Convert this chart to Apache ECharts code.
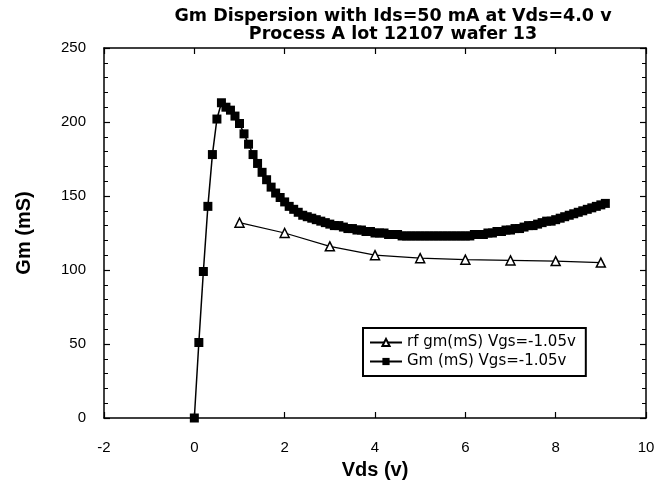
<!DOCTYPE html>
<html>
<head>
<meta charset="utf-8">
<script src="https://cdn.jsdelivr.net/npm/echarts@6/dist/echarts.min.js"></script>
<style>html,body{margin:0;padding:0;background:#fff}#c{width:662px;height:487px}</style>
</head>
<body>
<div id="c"></div>
<script>
var titleLines = ['Gm Dispersion with Ids=50 mA at Vds=4.0 v', 'Process A lot 12107 wafer 13'];
var xTitle = 'Vds (v)';
var yTitle = 'Gm (mS)';
var rfName = 'rf gm(mS) Vgs=-1.05v';
var gmName = 'Gm (mS) Vgs=-1.05v';

var rfVds = [1, 2, 3, 4, 5, 6, 7, 8, 9];
var rfGm  = [132, 125, 116, 110, 108, 107, 106.5, 106, 105];

var gmVds = [0.0,0.1,0.2,0.3,0.4,0.5,0.6,0.7,0.8,0.9,
             1.0,1.1,1.2,1.3,1.4,1.5,1.6,1.7,1.8,1.9,
             2.0,2.1,2.2,2.3,2.4,2.5,2.6,2.7,2.8,2.9,
             3.0,3.1,3.2,3.3,3.4,3.5,3.6,3.7,3.8,3.9,
             4.0,4.1,4.2,4.3,4.4,4.5,4.6,4.7,4.8,4.9,
             5.0,5.1,5.2,5.3,5.4,5.5,5.6,5.7,5.8,5.9,
             6.0,6.1,6.2,6.3,6.4,6.5,6.6,6.7,6.8,6.9,
             7.0,7.1,7.2,7.3,7.4,7.5,7.6,7.7,7.8,7.9,
             8.0,8.1,8.2,8.3,8.4,8.5,8.6,8.7,8.8,8.9,
             9.0,9.1];
var gmVal = [0,51,99,143,178,202,213,210,208,204,
             199,192,185,178,172,166,161,156,152,149,
             146,143,141,139,137,136,135,134,133,132,
             131,130,130,129,128,128,127,127,126,126,
             125,125,125,124,124,124,123,123,123,123,
             123,123,123,123,123,123,123,123,123,123,
             123,123,124,124,124,125,125,126,126,127,
             127,128,128,129,130,130,131,132,133,133,
             134,135,136,137,138,139,140,141,142,143,
             144,145];

var xMin = -2, xMax = 10, xStep = 2;
var yMin = 0, yMax = 250, yStep = 50;

function pairs(xs, ys) { return xs.map(function (x, i) { return [x, ys[i]]; }); }

var FONT = 'Liberation Sans';
var WIDE = 'DejaVu Sans';
var axisLine = { show: true, onZero: false, lineStyle: { color: '#000', width: 1.5 } };
var tick = { show: true, inside: true, length: 6, lineStyle: { color: '#000', width: 1.2 } };
var minor = { show: true, splitNumber: 5, length: 4, lineStyle: { color: '#000', width: 1 } };

var chart = echarts.init(document.getElementById('c'), null, { renderer: 'canvas' });
chart.setOption({
  animation: false,
  backgroundColor: '#fff',
  title: {
    text: titleLines.join('\n'),
    left: 388, top: 2, textAlign: 'center',
    textStyle: { fontFamily: WIDE, fontSize: 17.5, fontWeight: 'bold', color: '#000', lineHeight: 18 }
  },
  grid: { left: 104, right: 16, top: 48, bottom: 69, outerBoundsMode: 'none', containLabel: false },
  legend: {
    orient: 'vertical', left: 363, top: 328,
    padding: [7, 10, 7, 6], itemGap: 4, itemWidth: 32, itemHeight: 9,
    backgroundColor: '#fff', borderColor: '#000', borderWidth: 2,
    textStyle: { fontFamily: WIDE, fontSize: 15, color: '#000' },
    data: [rfName, gmName]
  },
  xAxis: [{
    type: 'value', min: xMin, max: xMax, interval: xStep, position: 'bottom',
    axisLine: axisLine, axisTick: tick, splitLine: { show: false },
    axisLabel: { margin: 22, fontFamily: FONT, fontSize: 15, color: '#000' },
    name: xTitle, nameLocation: 'middle', nameGap: 42,
    nameTextStyle: { fontFamily: FONT, fontSize: 20, fontWeight: 'bold', color: '#000' }
  }, {
    type: 'value', min: xMin, max: xMax, interval: xStep, position: 'top',
    axisLine: axisLine, axisTick: tick, splitLine: { show: false },
    axisLabel: { show: false }
  }],
  yAxis: [{
    type: 'value', min: yMin, max: yMax, interval: yStep, position: 'left',
    axisLine: axisLine, axisTick: tick, minorTick: minor, splitLine: { show: false },
    axisLabel: { margin: 18, fontFamily: FONT, fontSize: 15, color: '#000' },
    name: yTitle, nameLocation: 'middle', nameGap: 70,
    nameTextStyle: { fontFamily: FONT, fontSize: 20, fontWeight: 'bold', color: '#000' }
  }, {
    type: 'value', min: yMin, max: yMax, interval: yStep, position: 'right',
    axisLine: axisLine, axisTick: tick, minorTick: minor, splitLine: { show: false },
    axisLabel: { show: false }
  }],
  series: [{
    name: rfName, type: 'line', xAxisIndex: 0, yAxisIndex: 0,
    data: pairs(rfVds, rfGm),
    symbol: 'triangle', symbolSize: 9, showAllSymbol: true,
    lineStyle: { color: '#000', width: 1.2 },
    itemStyle: { color: '#fff', borderColor: '#000', borderWidth: 1.5 }
  }, {
    name: gmName, type: 'line', xAxisIndex: 0, yAxisIndex: 0,
    data: pairs(gmVds, gmVal),
    symbol: 'rect', symbolSize: 9, showAllSymbol: true,
    lineStyle: { color: '#000', width: 1.5 },
    itemStyle: { color: '#000', borderColor: '#000', borderWidth: 0 }
  }]
});
</script>
</body>
</html>
